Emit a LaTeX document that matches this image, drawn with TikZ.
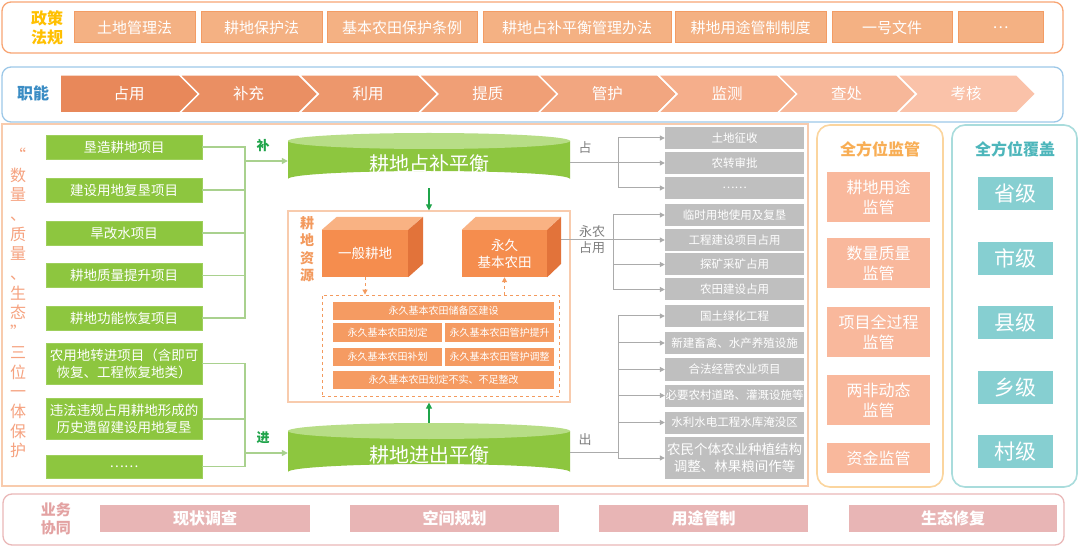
\documentclass[tikz,border=0pt]{standalone}
\usepackage{fontspec}
\setmainfont{Noto Sans CJK SC}
\usetikzlibrary{arrows.meta}
\newcommand\fsz[2]{\fontsize{#1}{#2}\selectfont}
\definecolor{pOrange}{HTML}{F8A574}
\definecolor{lawFill}{HTML}{F4B183}
\definecolor{lawDraw}{HTML}{F39C64}
\definecolor{gold}{HTML}{FFC000}
\definecolor{pBlue}{HTML}{9DC8E8}
\definecolor{blueTxt}{HTML}{3A8CC4}
\definecolor{peach}{HTML}{F8CBAD}
\definecolor{gFill}{HTML}{8DC63F}
\definecolor{gLine}{HTML}{A9D18E}
\definecolor{gDark}{HTML}{1FA44A}
\definecolor{gTop}{HTML}{B7DD86}
\definecolor{salmonTxt}{HTML}{F6A27F}
\definecolor{resTxt}{HTML}{F39A5E}
\definecolor{barFill}{HTML}{F59B62}
\definecolor{frontFill}{HTML}{F58D4E}
\definecolor{topFill}{HTML}{F9B283}
\definecolor{sideFill}{HTML}{E2733A}
\definecolor{grayFill}{HTML}{BFBFBF}
\definecolor{grayLine}{HTML}{ABABAB}
\definecolor{grayTxt}{HTML}{7F7F7F}
\definecolor{supDraw}{HTML}{FBD59E}
\definecolor{supTxt}{HTML}{F8AE55}
\definecolor{supFill}{HTML}{F9B89C}
\definecolor{covDraw}{HTML}{A9DCDC}
\definecolor{covTxt}{HTML}{4DB6BB}
\definecolor{covFill}{HTML}{86CFD1}
\definecolor{pinkDraw}{HTML}{EAB8B8}
\definecolor{pinkTxt}{HTML}{E3A2A2}
\definecolor{pinkFill}{HTML}{E8B5B5}
\definecolor{chev0}{HTML}{E8885A}
\definecolor{chev1}{HTML}{EA8F63}
\definecolor{chev2}{HTML}{ED976C}
\definecolor{chev3}{HTML}{F09F76}
\definecolor{chev4}{HTML}{F2A680}
\definecolor{chev5}{HTML}{F5AE8B}
\definecolor{chev6}{HTML}{F7B799}
\definecolor{chev7}{HTML}{FAC2A9}
\begin{document}
\begin{tikzpicture}[x=1pt,y=-1pt,
  panel/.style={rounded corners=9pt,line width=1.3pt},
  lawbox/.style={fill=lawFill,draw=lawDraw,line width=1pt,text=white,font=\fsz{15}{18},minimum height=31pt,inner sep=0pt},
  chevtext/.style={text=white,font=\fsz{15.5}{18},inner sep=0pt},
  greenbox/.style={fill=gFill,draw=gFill!85!white,line width=0.8pt,text=white,font=\fsz{13.5}{17},minimum width=156pt,inner sep=0pt,align=center},
  cyltext/.style={text=white,font=\fsz{20}{24},minimum width=282pt,inner sep=0pt},
  frontbox/.style={fill=frontFill,text=white,font=\fsz{13.5}{17},inner sep=0pt,align=center,minimum height=47pt},
  bar/.style={fill=barFill,text=white,font=\fsz{10}{12},inner sep=0pt,minimum height=18.5pt},
  graybox/.style={fill=grayFill,text=white,font=\fsz{11.5}{14},minimum width=139pt,minimum height=22pt,inner sep=0pt,align=center},
  gline/.style={draw=gLine,line width=1.3pt},
  garrow/.style={gline,-{Triangle[length=6pt,width=6pt]}},
  grayline/.style={draw=grayLine,line width=1pt},
  grayarrow/.style={grayline,-{Triangle[length=5pt,width=5pt]}},
  darrow/.style={draw=gDark,line width=1.2pt,-{Triangle[length=6pt,width=6pt]}},
  oarrow/.style={draw=resTxt,dashed,line width=1pt,-{Triangle[length=5pt,width=5pt]}},
  suptitle/.style={text=supTxt,font=\bfseries\fsz{16}{19},inner sep=0pt},
  supbox/.style={fill=supFill,text=white,font=\fsz{16}{20},minimum width=103pt,inner sep=0pt,align=center},
  covbox/.style={fill=covFill,text=white,font=\fsz{21}{24},minimum width=75pt,minimum height=33pt,inner sep=0pt},
  pinkbox/.style={fill=pinkFill,text=white,font=\bfseries\fsz{16}{19},minimum height=27pt,inner sep=0pt},
  lbl/.style={text=grayTxt,font=\fsz{13}{15},inner sep=0pt,align=center}
]
\useasboundingbox (0,0) rectangle (1080,548);
\fill[white] (0,0) rectangle (1080,548);

% ---------- row 1: policies ----------
\draw[panel,draw=pOrange] (2,2) rectangle (1063,53);
\node[text=gold,font=\bfseries\fsz{16}{19},align=center,inner sep=0pt] (polT) at (47,27.5) {政策\\法规};
\node[lawbox,minimum width=121pt] (law1) at (134.5,27.5) {土地管理法};
\node[lawbox,minimum width=121pt] (law2) at (261.5,27.5) {耕地保护法};
\node[lawbox,minimum width=150pt] (law3) at (402,27.5) {基本农田保护条例};
\node[lawbox,minimum width=188pt] (law4) at (577,27.5) {耕地占补平衡管理办法};
\node[lawbox,minimum width=151pt] (law5) at (750.5,27.5) {耕地用途管制制度};
\node[lawbox,minimum width=120pt] (law6) at (892,27.5) {一号文件};
\node[lawbox,minimum width=85pt] (law7) at (1000.5,27.5) {…};

% ---------- row 2: functions ----------
\draw[panel,draw=pBlue] (2,67) rectangle (1063,122);
\node[text=blueTxt,font=\bfseries\fsz{16}{19},inner sep=0pt] (funT) at (33,93) {职能};
\foreach \t [count=\i from 0] in {占用,补充,利用,提质,管护,监测,查处,考核}{
  \pgfmathsetmacro\L{60+119.6*\i}
  \pgfmathsetmacro\n{\i==0?0:19}
  \fill[chev\i,draw=white,line width=1.5pt] (\L,75) -- (\L+119.6,75) -- (\L+138.6,94) -- (\L+119.6,113) -- (\L,113) -- (\L+\n,94) -- cycle;
  \node[chevtext] (fn\i) at (\L+69,94) {\t};
}

% ---------- main panel ----------
\draw[draw=peach,line width=1.2pt] (2,124) rectangle (808,486);
\node[text=salmonTxt,font=\fsz{16}{19.7},align=center,inner sep=0pt] (prot) at (18,303)
 {“\\数\\量\\、\\质\\量\\、\\生\\态\\”\\三\\位\\一\\体\\保\\护};

% green project boxes
\node[greenbox,minimum height=24pt] (g1) at (124,147) {垦造耕地项目};
\node[greenbox,minimum height=24pt] (g2) at (124,190) {建设用地复垦项目};
\node[greenbox,minimum height=24pt] (g3) at (124,233) {旱改水项目};
\node[greenbox,minimum height=24pt] (g4) at (124,275.5) {耕地质量提升项目};
\node[greenbox,minimum height=24pt] (g5) at (124,318) {耕地功能恢复项目};
\node[greenbox,minimum height=41pt] (g6) at (124,363.5) {农用地转进项目（含即可\\恢复、工程恢复地类）};
\node[greenbox,minimum height=41pt] (g7) at (124,419) {违法违规占用耕地形成的\\历史遗留建设用地复垦};
\node[greenbox,minimum height=23pt] (g8) at (124,466.5) {……};

% cylinders
\fill[gFill] (288,141) -- (288,179) arc[start angle=180,end angle=360,x radius=141,y radius=8] -- (570,141) -- cycle;
\fill[gTop] (429,141) ellipse[x radius=141,y radius=8];
\node[cyltext,minimum height=48pt] (cyl1) at (429,164) {耕地占补平衡};
\fill[gFill] (288,431) -- (288,472) arc[start angle=180,end angle=360,x radius=141,y radius=8] -- (570,431) -- cycle;
\fill[gTop] (429,431) ellipse[x radius=141,y radius=8];
\node[cyltext,minimum height=64pt] (cyl2) at (429,455) {耕地进出平衡};

% resource box
\node[draw=peach,line width=1.2pt,minimum width=282pt,minimum height=191pt,inner sep=0pt] (res) at (429,306.5) {};
\node[text=resTxt,font=\bfseries\fsz{14}{17.5},align=center,inner sep=0pt] (resT) at (307,249) {耕\\地\\资\\源};
\node[draw=resTxt,dashed,line width=0.9pt,minimum width=237pt,minimum height=101pt,inner sep=0pt] (dbox) at (440.5,345.5) {};

% connectors on the left
\coordinate (jB) at (245,161);
\coordinate (jJ) at (245,453);
\foreach \k in {1,...,5}{\draw[gline] (g\k.east) -| (jB);}
\foreach \k in {6,7,8}{\draw[gline] (g\k.east) -| (jJ);}
\draw[garrow] (jB) -- (jB -| cyl1.west);
\draw[garrow] (jJ) -- (jJ -| cyl2.west);
\node[text=gDark,font=\bfseries\fsz{13}{15},inner sep=0pt] (buT) at (263,146) {补};
\node[text=gDark,font=\bfseries\fsz{13}{15},inner sep=0pt] (jinT) at (263,438) {进};

% vertical arrows
\draw[darrow] (cyl1.south) -- (res.north);
\draw[darrow] (cyl2.north) -- (res.south);

% gray boxes
\node[graybox] (gr1) at (734.5,138) {土地征收};
\node[graybox] (gr2) at (734.5,163) {农转审批};
\node[graybox] (gr3) at (734.5,188) {……};
\node[graybox] (gr4) at (734.5,215) {临时用地使用及复垦};
\node[graybox] (gr5) at (734.5,240) {工程建设项目占用};
\node[graybox] (gr6) at (734.5,264.5) {探矿采矿占用};
\node[graybox] (gr7) at (734.5,289.5) {农田建设占用};
\node[graybox] (gr8) at (734.5,316) {国土绿化工程};
\node[graybox] (gr9) at (734.5,343) {新建畜禽、水产养殖设施};
\node[graybox] (gr10) at (734.5,369.5) {合法经营农业项目};
\node[graybox] (gr11) at (734.5,395.5) {必要农村道路、灌溉设施等};
\node[graybox] (gr12) at (734.5,422.5) {水利水电工程水库淹没区};
\node[graybox,minimum height=42pt,font=\fsz{13.5}{17}] (gr13) at (734.5,458) {农民个体农业种植结构\\调整、林果粮间作等};

% gray connectors
\coordinate (jZ) at (618,163);
\coordinate (jY) at (613,240);
\coordinate (jC) at (618,452);
\coordinate (pside) at (547,240);
\draw[grayline] (cyl1.east |- jZ) -- (jZ);
\foreach \k in {1,2,3}{\draw[grayarrow] (jZ) |- (gr\k.west);}
\draw[grayline] (pside) -- (jY);
\foreach \k in {4,...,7}{\draw[grayarrow] (jY) |- (gr\k.west);}
\draw[grayline] (cyl2.east |- jC) -- (jC);
\foreach \k in {8,...,13}{\draw[grayarrow] (jC) |- (gr\k.west);}
\node[lbl] (zhanT) at (585,148) {占};
\node[lbl,font=\fsz{13}{16}] (ynT) at (592,240) {永农\\占用};
\node[lbl] (chuT) at (585,440) {出};

% 3D boxes
\node[frontbox,minimum width=86pt] (gen) at (365,253.5) {一般耕地};
\fill[topFill] (gen.north west) -- ++(15,-13) -- ++(86,0) -- (gen.north east) -- cycle;
\fill[sideFill] (gen.north east) -- ++(15,-13) -- ++(0,47) -- (gen.south east) -- cycle;
\node[frontbox,minimum width=85pt] (perm) at (504.5,253.5) {永久\\基本农田};
\fill[topFill] (perm.north west) -- ++(14,-13) -- ++(85,0) -- (perm.north east) -- cycle;
\fill[sideFill] (perm.north east) -- ++(14,-13) -- ++(0,47) -- (perm.south east) -- cycle;
\draw[oarrow] (gen.south) -- (gen.south |- dbox.north);
\draw[oarrow] (perm.south |- dbox.north) -- (perm.south);

% bars
\node[bar,minimum width=221pt] (b1) at (443.5,311) {永久基本农田储备区建设};
\node[bar,minimum width=109pt] (b2) at (387.5,332.5) {永久基本农田划定};
\node[bar,minimum width=109pt] (b3) at (499.5,332.5) {永久基本农田管护提升};
\node[bar,minimum width=109pt] (b4) at (387.5,357) {永久基本农田补划};
\node[bar,minimum width=109pt] (b5) at (499.5,357) {永久基本农田管护调整};
\node[bar,minimum width=221pt] (b6) at (443.5,380) {永久基本农田划定不实、不足整改};

% ---------- supervision panel ----------
\draw[panel,rounded corners=13pt,draw=supDraw,line width=1.6pt] (817,125) rectangle (943,487);
\node[suptitle] (supT) at (880,149) {全方位监管};
\node[supbox,minimum height=50pt] (s1) at (878.5,197) {耕地用途\\监管};
\node[supbox,minimum height=50pt] (s2) at (878.5,263) {数量质量\\监管};
\node[supbox,minimum height=50pt] (s3) at (878.5,332) {项目全过程\\监管};
\node[supbox,minimum height=50pt] (s4) at (878.5,400) {两非动态\\监管};
\node[supbox,minimum height=30pt] (s5) at (878.5,458) {资金监管};

% ---------- coverage panel ----------
\draw[panel,rounded corners=13pt,draw=covDraw,line width=1.6pt] (952,125) rectangle (1077,487);
\node[suptitle,text=covTxt] (covT) at (1015,149) {全方位覆盖};
\node[covbox] (c1) at (1015.5,193.5) {省级};
\node[covbox] (c2) at (1015.5,258.5) {市级};
\node[covbox] (c3) at (1015.5,323) {县级};
\node[covbox] (c4) at (1015.5,387.5) {乡级};
\node[covbox] (c5) at (1015.5,451.5) {村级};

% ---------- bottom row ----------
\draw[panel,draw=pinkDraw] (3,494) rectangle (1064,545);
\node[text=pinkTxt,font=\bfseries\fsz{15}{18},align=center,inner sep=0pt] (bizT) at (56,519) {业务\\协同};
\node[pinkbox,minimum width=210pt] (p1) at (205,518.5) {现状调查};
\node[pinkbox,minimum width=209pt] (p2) at (454.5,518.5) {空间规划};
\node[pinkbox,minimum width=209pt] (p3) at (703.5,518.5) {用途管制};
\node[pinkbox,minimum width=208pt] (p4) at (953,518.5) {生态修复};
\end{tikzpicture}
\end{document}
